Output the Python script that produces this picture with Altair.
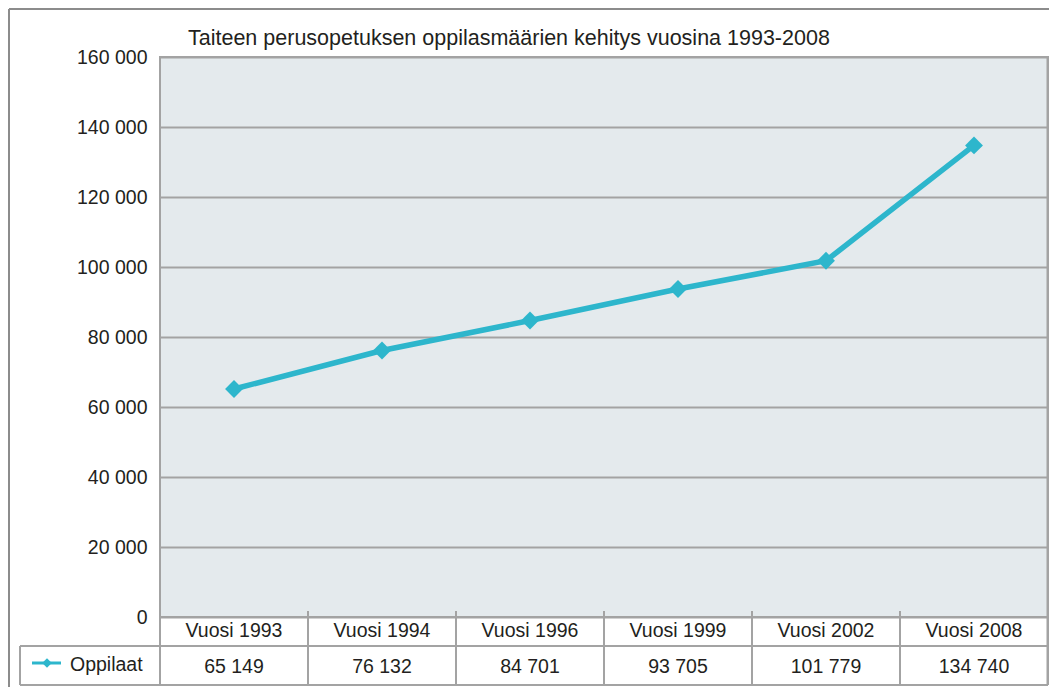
import altair as alt
import pandas as pd

# ---- data ----
categories = ["Vuosi 1993", "Vuosi 1994", "Vuosi 1996", "Vuosi 1999", "Vuosi 2002", "Vuosi 2008"]
values = [65149, 76132, 84701, 93705, 101779, 134740]
value_labels = ["65 149", "76 132", "84 701", "93 705", "101 779", "134 740"]
y_ticks = [0, 20000, 40000, 60000, 80000, 100000, 120000, 140000, 160000]
series_name = "Oppilaat"
title_text = "Taiteen perusopetuksen oppilasmäärien kehitys vuosina 1993-2008"

FONT = "Liberation Sans, Arial, sans-serif"
FS = 19.5
LINE = "#2DB6CC"
GRID = "#A3A3A3"
TXT = "#231F20"
W, H = 888, 560

df = pd.DataFrame({"cat": categories, "value": values, "label": value_labels})
one = pd.DataFrame({"series": [series_name], "title": [title_text]})

xscale = alt.Scale(type="band", paddingInner=0, paddingOuter=0)
xc = alt.X("cat:N", sort=categories, scale=xscale, axis=None, bandPosition=0.5)
xedge = alt.X("cat:N", sort=categories, scale=xscale, axis=None, bandPosition=0)

yenc = alt.Y(
    "value:Q",
    scale=alt.Scale(domain=[0, 160000], nice=False),
    axis=alt.Axis(
        values=y_ticks,
        labelExpr="replace(format(datum.value, ','), ',', ' ')",
        title=None, domain=False, ticks=False, grid=True,
        gridColor=GRID, gridWidth=2,
        labelFont=FONT, labelFontSize=FS, labelColor=TXT, labelPadding=13,
    ),
)

base = alt.Chart(df)

line = base.mark_line(color=LINE, strokeWidth=5.5).encode(x=xc, y=yenc)
pts = base.mark_point(shape="diamond", filled=True, size=320, opacity=1, color=LINE).encode(x=xc, y="value:Q")

cat_text = base.mark_text(font=FONT, fontSize=FS, color=TXT, baseline="alphabetic", align="center").encode(
    x=xc, y=alt.value(580), text="cat:N")
val_text = base.mark_text(font=FONT, fontSize=FS, color=TXT, baseline="alphabetic", align="center").encode(
    x=xc, y=alt.value(616), text="label:N")

seps = base.mark_rule(color=GRID, strokeWidth=2).encode(x=xedge, y=alt.value(554), y2=alt.value(628))

single = alt.Chart(one)
right_edge = single.mark_rule(color=GRID, strokeWidth=3).encode(x=alt.value(W), y=alt.value(0), y2=alt.value(628))
row_mid = single.mark_rule(color=GRID, strokeWidth=2).encode(x=alt.value(-140), x2=alt.value(W), y=alt.value(589))
row_bot = single.mark_rule(color=GRID, strokeWidth=2).encode(x=alt.value(-140), x2=alt.value(W), y=alt.value(628))
row_left = single.mark_rule(color=GRID, strokeWidth=2).encode(x=alt.value(-140), y=alt.value(589), y2=alt.value(628))

leg_line = single.mark_rule(color=LINE, strokeWidth=3).encode(x=alt.value(-128), x2=alt.value(-99), y=alt.value(606))
leg_pt = single.mark_point(shape="diamond", filled=True, size=90, opacity=1, color=LINE).encode(
    x=alt.value(-113), y=alt.value(606))
leg_text = single.mark_text(font=FONT, fontSize=FS, color=TXT, baseline="alphabetic", align="left").encode(
    x=alt.value(-90), y=alt.value(614), text="series:N")

title = single.mark_text(font=FONT, fontSize=21.5, color=TXT, baseline="alphabetic", align="left").encode(
    x=alt.value(28), y=alt.value(-12), text="title:N")

frame_top = single.mark_rule(color="#8C8C8C", strokeWidth=2).encode(x=alt.value(-151), x2=alt.value(W + 1), y=alt.value(-48))
frame_left = single.mark_rule(color="#8C8C8C", strokeWidth=2).encode(x=alt.value(-151), y=alt.value(-48), y2=alt.value(H + 70))

chart = alt.layer(
    frame_top, frame_left,
    seps, right_edge, row_mid, row_bot, row_left,
    line, pts, cat_text, val_text,
    leg_line, leg_pt, leg_text, title,
).properties(
    width=W, height=H,
    autosize=alt.AutoSizeParams(type="none"),
    padding={"left": 152, "top": 49, "right": 1, "bottom": 70},
    background="white",
).configure_view(
    fill="#E4EAED", stroke=GRID, strokeWidth=2,
)

chart.save("out.html", embed_options={"renderer": "svg", "actions": False})
